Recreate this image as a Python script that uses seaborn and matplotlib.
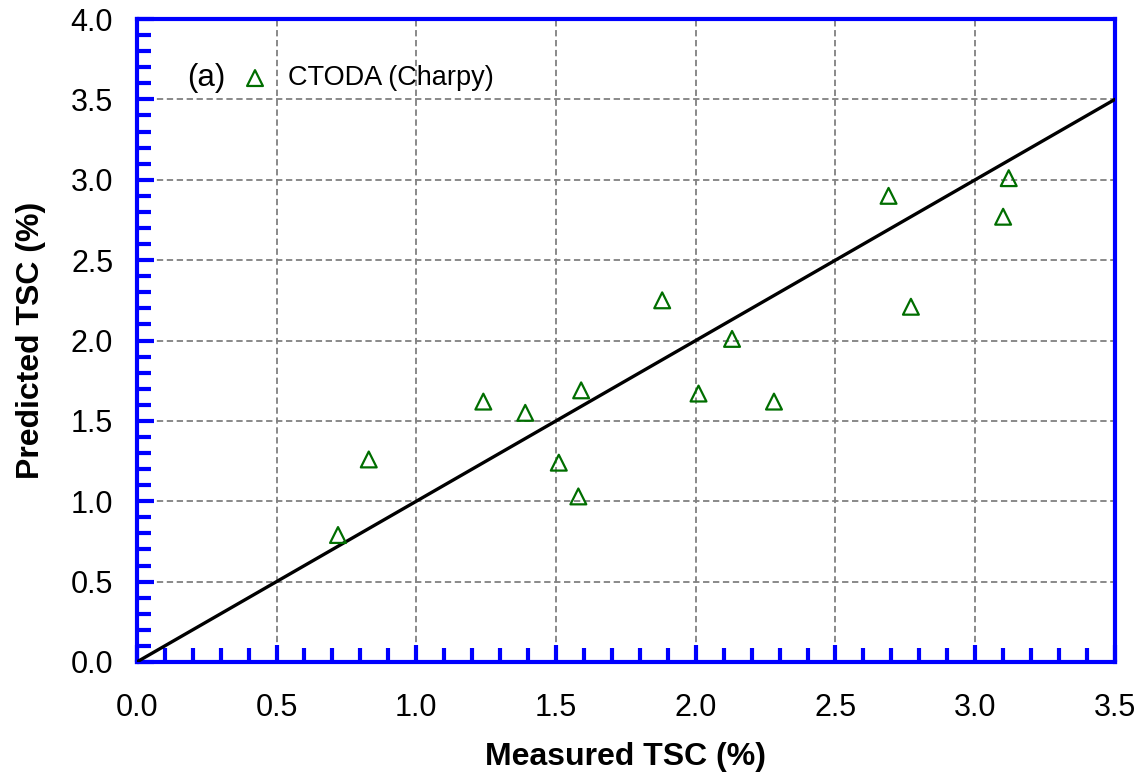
import numpy as np
import pandas as pd
import seaborn as sns
import matplotlib.pyplot as plt
from matplotlib.ticker import MultipleLocator
plt.switch_backend('Agg')

# measured vs predicted TSC (%), CTODA (Charpy)
measured = [0.72, 0.83, 1.24, 1.39, 1.51, 1.58, 1.59, 1.88, 2.01, 2.13,
            2.28, 2.69, 2.77, 3.10, 3.12]
predicted = [0.79, 1.26, 1.62, 1.55, 1.24, 1.03, 1.69, 2.25, 1.67, 2.01,
             1.62, 2.90, 2.21, 2.77, 3.01]
line_x = [0.0, 3.5]
line_y = [0.0, 3.5]

sns.set_style('white')
plt.rcParams['font.family'] = ['Liberation Sans', 'DejaVu Sans']
plt.rcParams['text.color'] = 'black'
plt.rcParams['axes.labelcolor'] = 'black'

df = pd.DataFrame({'Measured': measured, 'Predicted': predicted})

fig = plt.figure(figsize=(11.4, 7.73), dpi=100)
ax = fig.add_axes([0.120, 0.1436, 0.858, 0.8318])

ax.grid(True, which='major', color='#808080', linestyle=(0, (3.5, 2)), linewidth=1.3)
ax.set_axisbelow(True)

sns.lineplot(x=line_x, y=line_y, color='black', linewidth=2.4, ax=ax, zorder=3)
sns.scatterplot(data=df, x='Measured', y='Predicted', marker='^', s=130,
                facecolor='none', edgecolor='#006e00', linewidth=1.6,
                ax=ax, zorder=4, label='CTODA (Charpy)')

ax.set_xlim(0, 3.5)
ax.set_ylim(0, 4.0)
ax.xaxis.set_major_locator(MultipleLocator(0.5))
ax.yaxis.set_major_locator(MultipleLocator(0.5))
ax.xaxis.set_minor_locator(MultipleLocator(0.1))
ax.yaxis.set_minor_locator(MultipleLocator(0.1))
ax.xaxis.set_major_formatter(plt.FormatStrFormatter('%.1f'))
ax.yaxis.set_major_formatter(plt.FormatStrFormatter('%.1f'))

ax.tick_params(which='both', direction='in', color='#0000ff', width=3,
               bottom=True, left=True, top=False, right=False)
ax.tick_params(which='major', length=12, labelsize=22, labelcolor='black')
ax.tick_params(which='minor', length=10)
ax.tick_params(axis='x', which='major', pad=22)
ax.tick_params(axis='y', which='major', pad=17)

for s in ax.spines.values():
    s.set_visible(True)
    s.set_color('#0000ff')
    s.set_linewidth(3)

ax.set_xlabel('Measured TSC (%)', fontsize=23, fontweight='bold', labelpad=14)
ax.set_ylabel('Predicted TSC (%)', fontsize=23, fontweight='bold', labelpad=18)

ax.text(0.051, 0.908, '(a)', transform=ax.transAxes, fontsize=22.5,
        va='center', ha='left')
leg = ax.legend(loc='center left', bbox_to_anchor=(0.107, 0.908), frameon=False,
                fontsize=19.5, handlelength=1.0, handletextpad=0.7,
                borderpad=0, borderaxespad=0)

fig.savefig('out.png', dpi=100)
